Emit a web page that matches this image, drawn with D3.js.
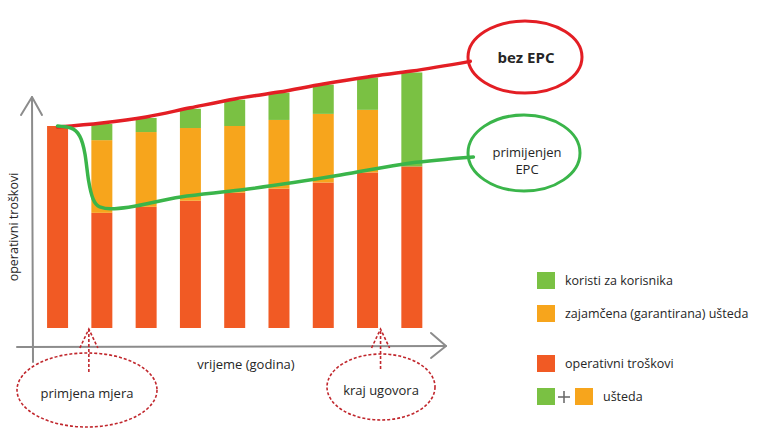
<!DOCTYPE html>
<html>
<head>
<meta charset="utf-8">
<title>EPC</title>
<script src="https://cdn.jsdelivr.net/npm/d3@7"></script>
<style>
  body { margin: 0; background: #fff; }
  text { font-family: "Open Sans", sans-serif; fill: #262626; }
</style>
</head>
<body>
<script>
// godine (9 stupaca)
var years = ["1", "2", "3", "4", "5", "6", "7", "8", "9"];
// operativni troškovi, zajamčena ušteda, koristi za korisnika
var operativni = [100, 57, 60, 63, 67, 69, 72, 77, 80];
var zajamcena = [0, 36, 37, 36, 33, 34, 34, 31, 0];
var koristi = [0, 8, 7, 9.5, 13, 13.5, 14.5, 16, 46.5];

// linija "bez EPC" (indeks godine, vrijednost)
var bezX = [0, 1, 2, 3, 4, 5, 6, 7, 8, 9.32];
var bezVal = [99.5, 101.5, 104.5, 109, 113.4, 116.8, 120.8, 124.3, 127.2, 132];
// linija "primijenjen EPC"
var epcX = [0, 0.3, 0.5, 0.62, 0.7, 0.8, 0.95, 1.2, 2.78, 4.13, 6.39, 7.97, 9.39];
var epcVal = [100, 99, 95, 86, 73, 64, 60, 59, 64.9, 68.3, 75.7, 81.7, 84.7];

var legendItems = ["koristi za korisnika", "zajamčena (garantirana) ušteda", "operativni troškovi", "ušteda"];

var width = 769, height = 430;
var colRed = "#f15a24", colOrange = "#f7a51c", colGreen = "#7ac143";
var lineRed = "#e31e24", lineGreen = "#3ab54a";

var svg = d3.select("body").append("svg")
    .attr("width", width)
    .attr("height", height);

var x = d3.scaleBand()
    .domain(years)
    .range([36, 433.4])
    .paddingInner(0.526)
    .paddingOuter(0.25);

var y = d3.scaleLinear()
    .domain([0, 100])
    .range([328, 126]);

var xi = d3.scaleLinear()
    .domain([0, years.length - 1])
    .range([x(years[0]) + x.bandwidth() / 2, x(years[years.length - 1]) + x.bandwidth() / 2]);

// stupci
var table = years.map(function (d, i) {
    return { year: d, operativni: operativni[i], zajamcena: zajamcena[i], koristi: koristi[i] };
});
var stack = d3.stack().keys(["operativni", "zajamcena", "koristi"])(table);
var colors = { operativni: colRed, zajamcena: colOrange, koristi: colGreen };

svg.append("g").selectAll("g")
    .data(stack)
    .enter().append("g")
    .attr("fill", function (d) { return colors[d.key]; })
    .selectAll("rect")
    .data(function (d) { return d; })
    .enter().append("rect")
    .attr("x", function (d) { return x(d.data.year); })
    .attr("y", function (d) { return y(d[1]); })
    .attr("width", x.bandwidth())
    .attr("height", function (d) { return Math.max(0, y(d[0]) - y(d[1])); });

// osi
var axisCol = "#8c8c8c";
var axes = svg.append("g").attr("stroke", axisCol).attr("stroke-width", 2).attr("fill", "none")
    .attr("stroke-linecap", "round").attr("stroke-linejoin", "round");
axes.append("path").attr("d", "M33,362 L32,97");
axes.append("path").attr("d", "M21,115 L32,97 L42,115");
axes.append("path").attr("d", "M17,347 L446,346");
axes.append("path").attr("d", "M431,333 L446,346 L431,358");

svg.append("text")
    .attr("transform", "translate(18,227) rotate(-90)")
    .attr("text-anchor", "middle")
    .attr("font-size", "12.5px")
    .text("operativni troškovi");

svg.append("text")
    .attr("x", 246).attr("y", 369)
    .attr("text-anchor", "middle")
    .attr("font-size", "13px")
    .text("vrijeme (godina)");

// linije
var line = d3.line()
    .x(function (d) { return xi(d[0]); })
    .y(function (d) { return y(d[1]); })
    .curve(d3.curveMonotoneX);

svg.append("path")
    .datum(bezX.map(function (v, i) { return [v, bezVal[i]]; }))
    .attr("fill", "none")
    .attr("stroke", lineRed)
    .attr("stroke-width", 3.5)
    .attr("stroke-linecap", "round")
    .attr("d", line);

svg.append("path")
    .datum(epcX.map(function (v, i) { return [v, epcVal[i]]; }))
    .attr("fill", "none")
    .attr("stroke", lineGreen)
    .attr("stroke-width", 3.5)
    .attr("stroke-linecap", "round")
    .attr("d", line);

// oblačići
svg.append("ellipse")
    .attr("cx", 525).attr("cy", 57).attr("rx", 57).attr("ry", 36)
    .attr("fill", "none").attr("stroke", lineRed).attr("stroke-width", 3);
svg.append("text")
    .attr("x", 526).attr("y", 63)
    .attr("text-anchor", "middle")
    .attr("font-size", "15px").attr("font-weight", "bold")
    .text("bez EPC");

svg.append("ellipse")
    .attr("cx", 524).attr("cy", 153).attr("rx", 56).attr("ry", 38)
    .attr("fill", "none").attr("stroke", lineGreen).attr("stroke-width", 3);
svg.append("text")
    .attr("x", 527).attr("y", 157)
    .attr("text-anchor", "middle")
    .attr("font-size", "13px")
    .text("primijenjen");
svg.append("text")
    .attr("x", 527).attr("y", 174)
    .attr("text-anchor", "middle")
    .attr("font-size", "13px")
    .text("EPC");

// napomene ispod osi
var dashCol = "#c1272d";
function note(cx, cy, rx, ry, label, yr, dx) {
    var ax = x(yr) + x.bandwidth() / 2 + dx;
    var g = svg.append("g").attr("fill", "none").attr("stroke", dashCol)
        .attr("stroke-width", 1.6).attr("stroke-dasharray", "3,2");
    g.append("ellipse").attr("cx", cx).attr("cy", cy).attr("rx", rx).attr("ry", ry);
    g.append("path").attr("d", "M" + ax + "," + (cy - 18) + " L" + ax + "," + (y(0) + 1));
    g.append("path").attr("d", "M" + (ax - 9) + "," + (y(0) + 20) + " L" + ax + "," + (y(0) + 1) +
        " L" + (ax + 9) + "," + (y(0) + 20));
    svg.append("text")
        .attr("x", cx).attr("y", cy + 8)
        .attr("text-anchor", "middle")
        .attr("font-size", "13px")
        .text(label);
}
note(87, 390, 70, 37, "primjena mjera", years[1], -13);
note(381, 387, 54, 33, "kraj ugovora", years[7], 13);

// legenda
var lg = svg.append("g");
var rows = [
    { y: 272, fill: colGreen, label: legendItems[0] },
    { y: 305, fill: colOrange, label: legendItems[1] },
    { y: 355, fill: colRed, label: legendItems[2] }
];
rows.forEach(function (r) {
    lg.append("rect").attr("x", 537).attr("y", r.y).attr("width", 18).attr("height", 17).attr("fill", r.fill);
    lg.append("text").attr("x", 565).attr("y", r.y + 13).attr("font-size", "12.5px").text(r.label);
});
lg.append("rect").attr("x", 537).attr("y", 388).attr("width", 18).attr("height", 17).attr("fill", colGreen);
lg.append("path").attr("d", "M558,397 L570,397 M564,391 L564,403")
    .attr("stroke", "#666").attr("stroke-width", 1.5);
lg.append("rect").attr("x", 575).attr("y", 388).attr("width", 18).attr("height", 17).attr("fill", colOrange);
lg.append("text").attr("x", 603).attr("y", 401).attr("font-size", "12.5px").text(legendItems[3]);
</script>
</body>
</html>
